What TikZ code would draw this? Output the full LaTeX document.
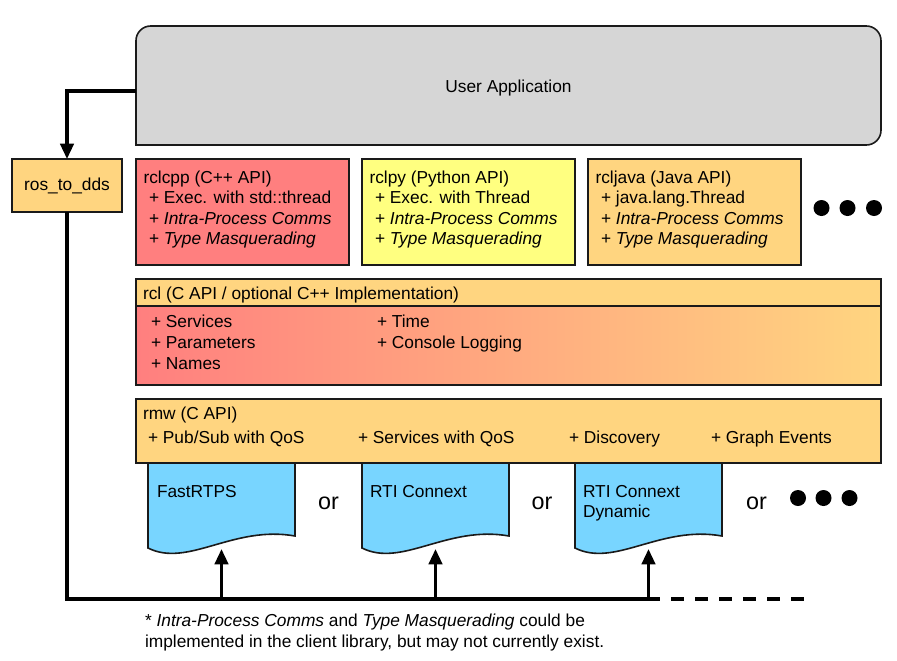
\documentclass[tikz,border=0pt]{standalone}
\usepackage{fontspec}
\setmainfont{Liberation Sans}
\usetikzlibrary{arrows.meta}
\definecolor{uagray}{HTML}{D6D6D6}
\definecolor{cppred}{HTML}{FF7F7F}
\definecolor{pyyellow}{HTML}{FFFF80}
\definecolor{lorange}{HTML}{FFD580}
\definecolor{ddsblue}{HTML}{78D5FF}
\definecolor{edge}{HTML}{1A1A1A}
\begin{document}
\begin{tikzpicture}[x=0.75pt,y=-0.75pt,
  every node/.style={font=\fontsize{13}{15.5}\selectfont, inner sep=0pt, outer sep=0pt},
  box/.style={draw=edge, line width=1.2pt, anchor=north west, inner sep=0pt},
  lbl/.style={anchor=base west},
  ctr/.style={anchor=base},
  ortext/.style={anchor=base, font=\fontsize{17.5}{20}\selectfont},
  edgeline/.style={draw=edge, line width=1.2pt},
  wire/.style={line width=2.5pt, draw=black},
  tipped/.style={-{Triangle[length=11.5pt,width=10pt]}},
  docshape/.style={draw=edge, line width=1.2pt, fill=ddsblue},
  bigdot/.style={circle, fill=black, minimum size=12pt}]
\useasboundingbox (0,0) rectangle (897,661);

% ---------- User Application ----------
\draw[edgeline, fill=uagray] (136,145) [rounded corners=11pt] -- (136,26) -- (881,26) -- (881,145) [sharp corners] -- cycle;
\node[ctr] (ua) at (508.5,92) {User Application};
\coordinate (uaout) at (136,91);

% ---------- ros_to_dds ----------
\node[box, fill=lorange, minimum width=82.5pt, minimum height=39.75pt] (r2d) at (12,159) {};
\node[ctr] (r2dt) at (67,190) {ros\_to\_dds};
\draw[wire, tipped] (uaout) -| (r2d.north);

% ---------- client libraries ----------
\node[box, fill=cppred, minimum width=159.75pt, minimum height=79.5pt] (cpp) at (136,159) {};
\node[lbl] (cpp0) at (143.5,183) {rclcpp (C++ API)};
\node[lbl] (cpp1) at (149,203.5) {+ Exec. with std::thread};
\node[lbl] (cpp2) at (149,224) {+ \textit{Intra-Process Comms}};
\node[lbl] (cpp3) at (149,244.5) {+ \textit{Type Masquerading}};

\node[box, fill=pyyellow, minimum width=159.75pt, minimum height=79.5pt] (py) at (362,159) {};
\node[lbl] (py0) at (369.5,183) {rclpy (Python API)};
\node[lbl] (py1) at (375,203.5) {+ Exec. with Thread};
\node[lbl] (py2) at (375,224) {+ \textit{Intra-Process Comms}};
\node[lbl] (py3) at (375,244.5) {+ \textit{Type Masquerading}};

\node[box, fill=lorange, minimum width=159.75pt, minimum height=79.5pt] (java) at (588,159) {};
\node[lbl] (java0) at (595.5,183) {rcljava (Java API)};
\node[lbl] (java1) at (601,203.5) {+ java.lang.Thread};
\node[lbl] (java2) at (601,224) {+ \textit{Intra-Process Comms}};
\node[lbl] (java3) at (601,244.5) {+ \textit{Type Masquerading}};

\node[bigdot] (d1) at (821.5,208) {};
\node[bigdot] (d2) at (847.5,208) {};
\node[bigdot] (d3) at (874,208) {};

% ---------- rcl ----------
\node[anchor=north west, fill=lorange, minimum width=558.75pt, minimum height=79.5pt] (rcl) at (136,279) {};
\shade[left color=cppred, right color=lorange] (136,306) rectangle (881,385);
\draw[edgeline] (rcl.north west) rectangle (rcl.south east);
\draw[edgeline] (136,306) -- (881,306);
\node[lbl] (rcl0) at (143,299) {rcl (C API / optional C++ Implementation)};
\node[lbl] (rcl1) at (151,327) {+ Services};
\node[lbl] (rcl2) at (151,348) {+ Parameters};
\node[lbl] (rcl3) at (151,369) {+ Names};
\node[lbl] (rcl4) at (377,327) {+ Time};
\node[lbl] (rcl5) at (377,348) {+ Console Logging};

% ---------- DDS implementations ----------
\foreach \xo in {148,362,575}{
  \begin{scope}[shift={(\xo,0)}]
    \draw[docshape] (0,463) -- (0,548) .. controls (40,568) and (85,525) .. (147,536) -- (147,463) -- cycle;
  \end{scope}
}
\node[lbl] (fast) at (157,497) {FastRTPS};
\node[lbl] (rti) at (370,497) {RTI Connext};
\node[lbl] (rtid1) at (583,497) {RTI Connext};
\node[lbl] (rtid2) at (583,517) {Dynamic};

\node[ortext] (or1) at (328.5,509) {or};
\node[ortext] (or2) at (542,509) {or};
\node[ortext] (or3) at (756.5,509) {or};
\node[bigdot] (e1) at (798,498) {};
\node[bigdot] (e2) at (823.5,498) {};
\node[bigdot] (e3) at (849.5,498) {};

% ---------- rmw ----------
\node[box, fill=lorange, minimum width=558.75pt, minimum height=48pt] (rmw) at (136,399) {};
\node[lbl] (rmw0) at (143,419) {rmw (C API)};
\node[lbl] (rmw1) at (148,443) {+ Pub/Sub with QoS};
\node[lbl] (rmw2) at (358,443) {+ Services with QoS};
\node[lbl] (rmw3) at (569,443) {+ Discovery};
\node[lbl] (rmw4) at (711,443) {+ Graph Events};

% ---------- bus ----------
\coordinate (busL) at (67,599);
\coordinate (busM) at (660,599);
\coordinate (busD) at (671,599);
\coordinate (busE) at (804,599);
\draw[wire] (r2d.south) -- (busL) -- (busM);
\draw[wire, dash pattern=on 9.75pt off 8.25pt] (busD) -- (busE);
\coordinate (b1) at (221.5,599); \coordinate (t1) at (221.5,549);
\coordinate (b2) at (435.5,599); \coordinate (t2) at (435.5,549);
\coordinate (b3) at (648.5,599); \coordinate (t3) at (648.5,549);
\draw[wire, tipped] (b1) -- (t1);
\draw[wire, tipped] (b2) -- (t2);
\draw[wire, tipped] (b3) -- (t3);

% ---------- footnote ----------
\node[lbl] (fn1) at (145,626) {* \textit{Intra-Process Comms} and \textit{Type Masquerading} could be};
\node[lbl] (fn2) at (145,647) {implemented in the client library, but may not currently exist.};
\end{tikzpicture}
\end{document}
